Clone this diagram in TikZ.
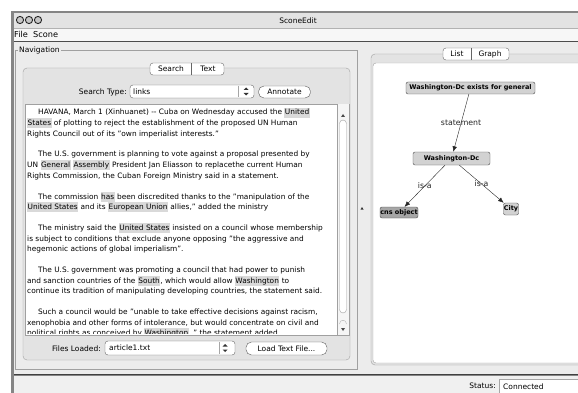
\documentclass[tikz,border=0pt]{standalone}
\usepackage{fontspec}
\setmainfont{DejaVu Sans}
\usetikzlibrary{arrows.meta}
\definecolor{ramec}{HTML}{858585}
\definecolor{okno}{HTML}{ECECEC}
\definecolor{panel}{HTML}{E3E3E3}
\definecolor{linka}{HTML}{A0A0A0}
\definecolor{zvyraz}{HTML}{D9D9D9}
\definecolor{uzel}{HTML}{D2D2D2}
\definecolor{uzeltmavy}{HTML}{A6A6A6}
\newcommand{\zv}[1]{{\setlength{\fboxsep}{0.5pt}\colorbox{zvyraz}{\rule[-2.3pt]{0pt}{9.2pt}#1}}}
\begin{document}
\begin{tikzpicture}[x=1pt, y=-1pt,
  ui/.style={inner sep=0pt, font=\fontsize{7.5}{9}\selectfont},
  radek/.style={anchor=base west, inner sep=0pt, font=\fontsize{7.4}{10.5}\selectfont},
  tlacitko/.style={draw=gray!70!black, fill=white, rounded corners=5.5pt, inner sep=0pt, font=\fontsize{7.5}{9}\selectfont},
  vyber/.style={draw=gray!80!black, fill=white, rounded corners=3pt},
  karta/.style={draw=gray!80!black, fill=white, rounded corners=3pt},
  uzelg/.style={draw=black!70, fill=uzel, rounded corners=2pt, inner sep=0pt, font=\bfseries\fontsize{6.5}{7}\selectfont},
  popis/.style={inner sep=0.5pt, font=\fontsize{7.8}{9}\selectfont},
  sipka/.style={-{Latex[length=5.5pt, width=4.5pt]}, black!85}]
\useasboundingbox (0,0) rectangle (578,393);
\fill[white] (0,0) rectangle (578,393);
% Okno
\fill[ramec] (11,11) rectangle (578,393);
\fill[gray!22] (14,13) rectangle (578,28);
\fill[gray!6] (14,28) rectangle (578,41);
\fill[okno] (14,42) rectangle (578,374);
\draw[gray!60] (14,28) -- (578,28);
\draw[black!70, thick] (14,41.5) -- (578,41.5);
\draw[black!75, thick] (14,374.5) -- (578,374.5);
\fill[gray!12] (14,375.5) rectangle (578,393);
% Titulek a menu
\foreach \i/\x in {1/20, 2/29, 3/38}
  \draw[gray!30!black, fill=gray!45, line width=0.9pt] (\x,20) circle (3.6pt);
\node[ui] (titulek) at (298,20.5) {SconeEdit};
\node[ui, anchor=west, font=\fontsize{8.2}{9}\selectfont] (menu) at (14,34.5) {File\ \ Scone};
% Navigace
\draw[linka] (15.5,50) rectangle (357,369);
\node[ui, anchor=west, fill=okno, inner xsep=1pt] (navigace) at (18,50) {Navigation};
\draw[linka, fill=panel, rounded corners=4pt] (23,68) rectangle (350,360);
\node[karta, minimum width=74pt, minimum height=12pt] (karty) at (187,69) {};
\draw[gray!80!black] (191,63) -- (191,75);
\node[ui] (search) at (171,69) {Search};
\node[ui] (text) at (208,69) {Text};
% Typ hledani
\node[ui, anchor=east] (typ) at (127,92) {Search Type:};
\node[vyber, minimum width=124pt, minimum height=13pt] (links) at (192,91.5) {};
\node[ui, anchor=west] (linkstxt) at (133,91.5) {links};
\draw[gray!70] (238,86) -- (238,97);
\fill[black!80] (243.5,90) -- (246,87.5) -- (248.5,90) -- cycle;
\fill[black!80] (243.5,93) -- (246,95.5) -- (248.5,93) -- cycle;
\node[tlacitko, minimum width=52pt, minimum height=12pt] (annotate) at (284.5,92) {Annotate};
% Text clanku
\draw[linka, fill=white] (25,104) rectangle (349,335);
\begin{scope}
\clip (26,105) rectangle (337,333.5);
\foreach \r/\x/\t in {
  0/38/{HAVANA, March 1 (Xinhuanet) \mbox{-}\mbox{-} Cuba on Wednesday accused the \zv{United}},
  1/27/{\zv{States} of plotting to reject the establishment of the proposed UN Human},
  2/27/{Rights Council out of its "own imperialist interests."},
  4/38/{The U.S. government is planning to vote against a proposal presented by},
  5/27/{UN \zv{General} \zv{Assembly} President Jan Eliasson to replacethe current Human},
  6/27/{Rights Commission, the Cuban Foreign Ministry said in a statement.},
  8/38/{The commission \zv{has} been discredited thanks to the "manipulation of the},
  9/27/{\zv{United States} and its \zv{European Union} allies," added the ministry},
  11/38/{The ministry said the \zv{United States} insisted on a council whose membership},
  12/27/{is subject to conditions that exclude anyone opposing "the aggressive and},
  13/27/{hegemonic actions of global imperialism".},
  15/38/{The U.S. government was promoting a council that had power to punish},
  16/27/{and sanction countries of the \zv{South}, which would allow \zv{Washington} to},
  17/27/{continue its tradition of manipulating developing countries, the statement said.},
  19/38/{Such a council would be "unable to take effective decisions against racism,},
  20/27/{xenophobia and other forms of intolerance, but would concentrate on civil and},
  21/27/{political rights as conceived by \zv{Washington} ," the statement added.}}
  \node[radek] (radek\r) at (\x,{115+10.5*\r}) {\t};
\end{scope}
% Posuvnik
\fill[gray!8] (337,104.5) rectangle (348.5,334.5);
\draw[linka] (337,104.5) -- (337,334.5);
\fill[black!70] (341,117) -- (343,114) -- (345,117) -- cycle;
\draw[gray!75, fill=white, rounded corners=3.5pt] (339.5,120) rectangle (346.5,313);
\draw[gray!60] (339.5,324) .. controls (339.5,319) and (346.5,319) .. (346.5,324);
\fill[black!70] (341,328) -- (343,331) -- (345,328) -- cycle;
% Soubory
\node[ui, anchor=east] (soubory) at (101,348.5) {Files Loaded:};
\node[vyber, minimum width=130pt, minimum height=14pt] (clanek) at (170,348) {};
\node[ui, anchor=west] (clanektxt) at (109,348) {article1.txt};
\draw[gray!70] (219,342) -- (219,354);
\fill[black!80] (222.5,346.5) -- (225,344) -- (227.5,346.5) -- cycle;
\fill[black!80] (222.5,349.5) -- (225,352) -- (227.5,349.5) -- cycle;
\node[tlacitko, minimum width=81pt, minimum height=13pt] (nacist) at (286.5,348.5) {Load Text File...};
% Rozdeleni
\fill[black!80] (360.5,209.5) -- (362,207) -- (363.5,209.5) -- cycle;
% Pravy panel
\draw[linka, fill=panel, rounded corners=4pt] (371,54) rectangle (590,365);
\draw[linka, fill=white, rounded corners=3pt] (373,63) rectangle (590,363);
\node[karta, minimum width=66pt, minimum height=12pt] (karty2) at (476,54) {};
\draw[gray!80!black] (471,48) -- (471,60);
\node[ui] (list) at (457,54) {List};
\node[ui] (graph) at (490,54) {Graph};
% Graf
\node[uzelg, minimum width=129pt, minimum height=12pt] (obecny) at (470.5,88) {Washington-Dc exists for general};
\node[uzelg, minimum width=77pt, minimum height=13pt] (wdc) at (451.5,158.5) {Washington-Dc};
\node[uzelg, fill=uzeltmavy, minimum width=38pt, minimum height=11pt] (cns) at (399,212.5) {cns object};
\node[uzelg, minimum width=15pt, minimum height=12pt] (city) at (511,209) {City};
\draw[sipka] (obecny) -- (wdc) node[popis, midway] {statement};
\draw[sipka] (wdc) -- (cns) node[popis, midway] {is-a};
\draw[sipka] (wdc) -- (city) node[popis, midway] {is-a};
% Stav
\node[ui, anchor=east] (stav) at (496,386) {Status:};
\draw[gray!70, fill=white] (499,379) rectangle (590,395);
\node[ui, anchor=west] (pripojeno) at (503,386.5) {Connected};
\end{tikzpicture}
\end{document}
